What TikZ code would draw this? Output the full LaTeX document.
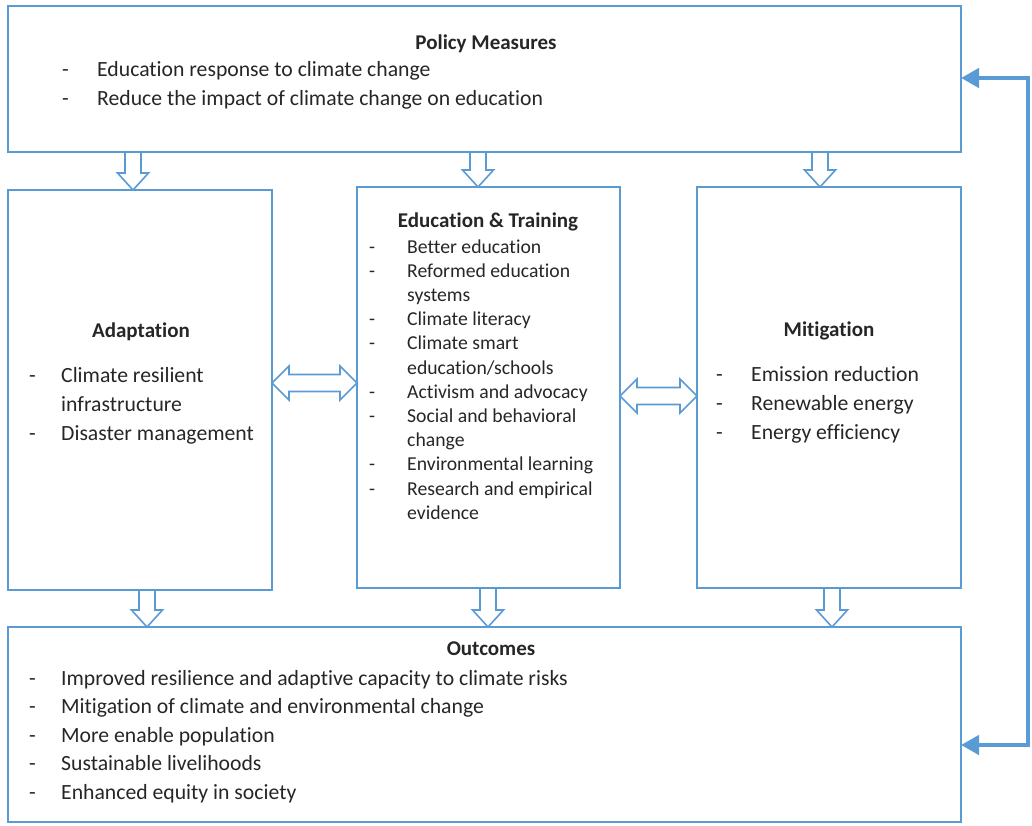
\documentclass[tikz,border=0pt]{standalone}
\usepackage{fontspec}
\setmainfont{Carlito}[RawFeature={-liga;-clig;-calt;-dlig;-rlig}]
\usetikzlibrary{calc,arrows.meta}
\definecolor{bl}{HTML}{5B9BD5}
\definecolor{tx}{HTML}{262626}
\tikzset{
  box/.style={draw=bl, line width=2pt, rectangle, inner sep=0pt, outer sep=0pt, anchor=north west},
  blk/.style={draw=bl, line width=1.6pt, fill=white, line join=miter},
  fb/.style={draw=bl, line width=4.8pt, {Triangle[length=18pt,width=19pt]}-{Triangle[length=18pt,width=19pt]}},
  ttl/.style={text=tx, anchor=base, inner sep=0pt, font=\bfseries\fontsize{21}{26}\selectfont},
  lst/.style={text=tx, anchor=base west, inner sep=0pt}
}
\newcommand\blkdown[3]{%
  \draw[blk] let \p1=(#2.south -| #1), \p2=(#3.north -| #1) in
    (\x1-8pt,\y1) -- (\x1+8pt,\y1) -- (\x1+8pt,\y2+17pt) -- (\x1+15.5pt,\y2+17pt)
    -- (\x1,\y2) -- (\x1-15.5pt,\y2+17pt) -- (\x1-8pt,\y2+17pt) -- cycle;}
\newcommand\blkdouble[3]{%
  \draw[blk] let \p1=(#2.east |- #1), \p2=(#3.west |- #1) in
    (\x1,\y1) -- (\x1+17pt,\y1+17pt) -- (\x1+17pt,\y1+8.5pt) -- (\x2-17pt,\y1+8.5pt)
    -- (\x2-17pt,\y1+17pt) -- (\x2,\y1) -- (\x2-17pt,\y1-17pt) -- (\x2-17pt,\y1-8.5pt)
    -- (\x1+17pt,\y1-8.5pt) -- (\x1+17pt,\y1-17pt) -- cycle;}
\newcommand\dsh[1]{\makebox[#1][l]{-}}
\begin{document}
\begin{tikzpicture}[x=1pt,y=1pt]
\useasboundingbox (0,0) rectangle (1032,-826);
% boxes
\node[box, minimum width=953pt, minimum height=146pt] (pol) at (8,-6) {};
\node[box, minimum width=264pt, minimum height=400pt] (ad) at (8,-190) {};
\node[box, minimum width=263pt, minimum height=401pt] (ed) at (357,-187) {};
\node[box, minimum width=264pt, minimum height=401pt] (mit) at (697,-187) {};
\node[box, minimum width=953pt, minimum height=195pt] (out) at (8,-627) {};
% texts
\node[ttl] (polt) at (486,-50) {Policy Measures};
\node[lst] (poll) at (62,-77) {\fontsize{21.7}{29}\selectfont\begin{tabular}[t]{@{}l@{}}
\dsh{35pt}Education response to climate change\\
\dsh{35pt}Reduce the impact of climate change on education\end{tabular}};
\node[ttl] (adt) at (141,-337) {Adaptation};
\node[lst] (adl) at (29,-382) {\fontsize{21.7}{29}\selectfont\begin{tabular}[t]{@{}l@{}}
\dsh{32pt}Climate resilient\\
\hspace{32pt}infrastructure\\
\dsh{32pt}Disaster management\end{tabular}};
\node[ttl] (edt) at (488,-228) {Education \& Training};
\node[lst] (edl) at (369,-253) {\fontsize{19.7}{24.2}\selectfont\begin{tabular}[t]{@{}l@{}}
\dsh{38pt}Better education\\
\dsh{38pt}Reformed education\\
\hspace{38pt}systems\\
\dsh{38pt}Climate literacy\\
\dsh{38pt}Climate smart\\
\hspace{38pt}education/schools\\
\dsh{38pt}Activism and advocacy\\
\dsh{38pt}Social and behavioral\\
\hspace{38pt}change\\
\dsh{38pt}Environmental learning\\
\dsh{38pt}Research and empirical\\
\hspace{38pt}evidence\end{tabular}};
\node[ttl] (mitt) at (829,-336) {Mitigation};
\node[lst] (mitl) at (716,-381) {\fontsize{21.7}{29}\selectfont\begin{tabular}[t]{@{}l@{}}
\dsh{35pt}Emission reduction\\
\dsh{35pt}Renewable energy\\
\dsh{35pt}Energy efficiency\end{tabular}};
\node[ttl] (outt) at (491,-655) {Outcomes};
\node[lst] (outl) at (29,-685) {\fontsize{21.7}{28.6}\selectfont\begin{tabular}[t]{@{}l@{}}
\dsh{32pt}Improved resilience and adaptive capacity to climate risks\\
\dsh{32pt}Mitigation of climate and environmental change\\
\dsh{32pt}More enable population\\
\dsh{32pt}Sustainable livelihoods\\
\dsh{32pt}Enhanced equity in society\end{tabular}};
% arrow x / y positions
\coordinate (xa1) at (133,0);
\coordinate (xa2) at (478,0);
\coordinate (xa3) at (820,0);
\coordinate (xb1) at (147,0);
\coordinate (xb2) at (488,0);
\coordinate (xb3) at (832,0);
\coordinate (yd1) at (0,-383);
\coordinate (yd2) at (0,-396);
\blkdown{xa1}{pol}{ad}
\blkdown{xa2}{pol}{ed}
\blkdown{xa3}{pol}{mit}
\blkdown{xb1}{ad}{out}
\blkdown{xb2}{ed}{out}
\blkdown{xb3}{mit}{out}
\blkdouble{yd1}{ad}{ed}
\blkdouble{yd2}{ed}{mit}
% feedback loop
\coordinate (fbT) at (1028,-78);
\coordinate (fbB) at (1028,-745);
\draw[fb] (pol.east |- fbT) -- (fbT) -- (fbB) -- (out.east |- fbB);
\end{tikzpicture}
\end{document}
